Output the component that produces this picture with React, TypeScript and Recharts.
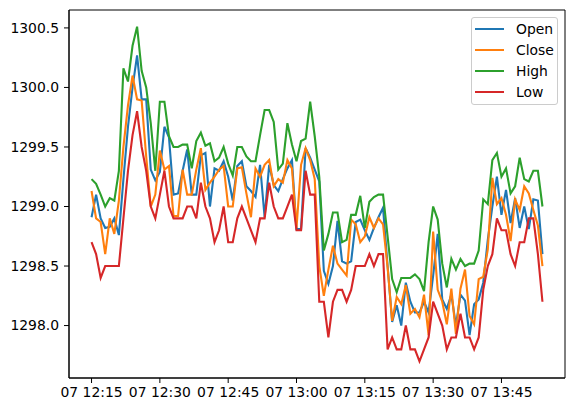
import React from "react"
import {
  LineChart,
  Line,
  XAxis,
  YAxis,
  ReferenceArea,
} from "recharts"

// one point per minute, starting at 07 12:15
const openPrices = [
  1298.91, 1299.10, 1298.90, 1298.82, 1298.83, 1298.90, 1298.76, 1299.23, 1299.67, 1300.00,
  1300.27, 1299.90, 1299.90, 1299.31, 1299.22, 1299.29, 1299.67, 1299.58, 1299.10, 1299.11,
  1299.30, 1299.48, 1299.10, 1299.10, 1299.43, 1299.45, 1299.00, 1299.32, 1299.30, 1299.38,
  1299.25, 1299.05, 1299.34, 1299.38, 1299.17, 1299.13, 1299.08, 1299.35, 1298.91, 1299.35,
  1299.18, 1299.13, 1299.23, 1299.32, 1299.39, 1298.81, 1298.81, 1299.49, 1299.41, 1299.31,
  1299.21, 1298.46, 1298.35, 1298.50, 1298.88, 1298.54, 1298.52, 1298.54, 1298.87, 1298.89,
  1298.80, 1298.72, 1298.82, 1298.91, 1298.99, 1298.50, 1298.03, 1298.17, 1298.00, 1298.36,
  1298.20, 1298.11, 1298.11, 1298.20, 1298.11, 1298.42, 1298.77, 1298.22, 1298.14, 1298.26,
  1298.00, 1298.26, 1298.21, 1297.92, 1298.18, 1298.22, 1298.36, 1298.72, 1299.00, 1299.25,
  1298.93, 1299.14, 1298.86, 1299.07, 1298.82, 1299.00, 1298.81, 1299.06, 1299.05, 1298.60,
]

const closePrices = [
  1299.13, 1298.90, 1298.87, 1298.60, 1298.90, 1298.77, 1299.05, 1299.50, 1299.85, 1300.10,
  1299.90, 1299.89, 1299.42, 1299.00, 1299.10, 1299.47, 1299.31, 1299.34, 1298.92, 1298.92,
  1299.31, 1299.10, 1299.10, 1299.31, 1299.49, 1299.14, 1299.20, 1299.25, 1299.31, 1299.34,
  1299.00, 1299.00, 1299.32, 1299.33, 1299.11, 1298.91, 1299.32, 1299.25, 1299.35, 1299.39,
  1299.17, 1299.23, 1299.20, 1299.39, 1299.32, 1298.82, 1299.35, 1299.49, 1299.39, 1299.23,
  1298.50, 1298.25, 1298.47, 1298.67, 1298.52, 1298.47, 1298.42, 1298.89, 1298.85, 1298.70,
  1298.75, 1298.91, 1298.82, 1298.90, 1298.85, 1298.49, 1298.04, 1298.24, 1298.18, 1298.34,
  1298.10, 1298.14, 1298.07, 1298.26, 1297.92, 1298.79, 1298.30, 1298.20, 1298.01, 1298.31,
  1297.93, 1298.31, 1298.47, 1298.08, 1298.01, 1298.39, 1298.41, 1298.64, 1299.24, 1299.02,
  1299.07, 1298.93, 1298.71, 1299.06, 1298.97, 1299.17, 1299.11, 1298.97, 1298.84, 1298.50,
]

const highPrices = [
  1299.23, 1299.19, 1299.10, 1299.00, 1299.07, 1299.05, 1299.30, 1300.16, 1300.05, 1300.35,
  1300.51, 1300.14, 1300.00, 1299.70, 1299.30, 1299.88, 1299.88, 1299.59, 1299.50, 1299.50,
  1299.52, 1299.52, 1299.32, 1299.55, 1299.62, 1299.51, 1299.53, 1299.38, 1299.41, 1299.50,
  1299.36, 1299.26, 1299.50, 1299.50, 1299.42, 1299.38, 1299.38, 1299.60, 1299.81, 1299.81,
  1299.71, 1299.31, 1299.36, 1299.70, 1299.52, 1299.38, 1299.55, 1299.57, 1299.88, 1299.59,
  1299.25, 1298.63, 1298.77, 1298.95, 1298.95, 1298.70, 1298.72, 1298.93, 1298.93, 1299.09,
  1298.82, 1299.04, 1299.08, 1299.10, 1299.10, 1298.75, 1298.39, 1298.28, 1298.40, 1298.40,
  1298.40, 1298.43, 1298.39, 1298.29, 1298.70, 1299.00, 1298.89, 1298.52, 1298.32, 1298.56,
  1298.47, 1298.56, 1298.50, 1298.52, 1298.52, 1298.63, 1299.06, 1299.02, 1299.39, 1299.45,
  1299.25, 1299.32, 1299.11, 1299.17, 1299.41, 1299.23, 1299.21, 1299.30, 1299.30, 1299.00,
]

const lowPrices = [
  1298.70, 1298.60, 1298.40, 1298.50, 1298.50, 1298.50, 1298.50, 1298.90, 1299.30, 1299.60,
  1299.80, 1299.50, 1299.30, 1299.00, 1298.90, 1299.10, 1299.30, 1299.00, 1298.90, 1298.90,
  1298.90, 1299.00, 1299.00, 1298.90, 1299.20, 1299.00, 1298.90, 1298.70, 1298.80, 1299.00,
  1298.70, 1298.70, 1298.90, 1299.00, 1298.90, 1298.80, 1298.70, 1298.90, 1298.90, 1299.20,
  1299.00, 1298.90, 1298.90, 1299.00, 1299.10, 1298.80, 1298.80, 1299.30, 1299.10, 1299.10,
  1298.20, 1298.20, 1297.90, 1298.20, 1298.30, 1298.30, 1298.20, 1298.30, 1298.50, 1298.50,
  1298.50, 1298.60, 1298.50, 1298.60, 1298.60, 1297.80, 1297.90, 1297.80, 1297.80, 1298.00,
  1297.80, 1297.80, 1297.70, 1297.80, 1297.90, 1298.20, 1298.10, 1298.00, 1297.80, 1297.90,
  1297.90, 1298.10, 1297.90, 1297.90, 1297.80, 1297.90, 1298.30, 1298.50, 1298.60, 1298.90,
  1298.80, 1298.80, 1298.60, 1298.50, 1298.70, 1298.70, 1298.90, 1298.90, 1298.60, 1298.20,
]

// minutes after 12:15
const xTicks = [0, 15, 30, 45, 60, 75, 90]
const xTickLabels = ["07 12:15", "07 12:30", "07 12:45", "07 13:00", "07 13:15", "07 13:30", "07 13:45"]
const yTicks = [1298.0, 1298.5, 1299.0, 1299.5, 1300.0, 1300.5]

const SERIES = [
  { key: "open", name: "Open", color: "#1f77b4" },
  { key: "close", name: "Close", color: "#ff7f0e" },
  { key: "high", name: "High", color: "#2ca02c" },
  { key: "low", name: "Low", color: "#d62728" },
]

const data = openPrices.map((o, i) => ({
  t: i,
  open: o,
  close: closePrices[i],
  high: highPrices[i],
  low: lowPrices[i],
}))

// matplotlib-style autoscale with 5% margins
const pad = (lo: number, hi: number): [number, number] => {
  const m = (hi - lo) * 0.05
  return [lo - m, hi + m]
}
const xDomain = pad(0, data.length - 1)
const yDomain = pad(Math.min(...lowPrices), Math.max(...highPrices))

const FONT = "'DejaVu Sans', sans-serif"
const tickStyle = { fill: "#000", fontSize: 13.9, fontFamily: FONT }

function LegendBox() {
  return (
    <div
      style={{
        position: "absolute",
        left: 471,
        top: 17,
        width: 87,
        height: 88,
        boxSizing: "border-box",
        border: "1px solid #cccccc",
        borderRadius: 3,
        background: "rgba(255,255,255,0.8)",
        paddingTop: 1,
        fontFamily: FONT,
        fontSize: 13.9,
        color: "#000",
      }}
    >
      {SERIES.map((s) => (
        <div key={s.key} style={{ display: "flex", alignItems: "center", height: 20.8 }}>
          <div style={{ marginLeft: 3, width: 29, height: 2.1, background: s.color }} />
          <span style={{ marginLeft: 12 }}>{s.name}</span>
        </div>
      ))}
    </div>
  )
}

export default function App() {
  return (
    <div style={{ position: "fixed", left: 0, top: 0, width: 574, height: 413, background: "#fff" }}>
      <LineChart width={574} height={413} data={data} margin={{ top: 10, right: 9, bottom: 0, left: 0 }}>
        <XAxis
          dataKey="t"
          type="number"
          domain={xDomain}
          ticks={xTicks}
          tickFormatter={(v: number) => xTickLabels[xTicks.indexOf(v)]}
          allowDataOverflow
          height={35}
          tickSize={5}
          tickMargin={4}
          tick={tickStyle}
          stroke="#000"
          interval={0}
        />
        <YAxis
          type="number"
          domain={yDomain}
          ticks={yTicks}
          tickFormatter={(v: number) => v.toFixed(1)}
          allowDataOverflow
          width={69}
          tickSize={5}
          tickMargin={5}
          tick={tickStyle}
          stroke="#000"
        />
        <ReferenceArea
          x1={xDomain[0]}
          x2={xDomain[1]}
          y1={yDomain[0]}
          y2={yDomain[1]}
          fill="none"
          stroke="#000"
          strokeWidth={1}
          ifOverflow="visible"
        />
        {SERIES.map((s) => (
          <Line
            key={s.key}
            type="linear"
            dataKey={s.key}
            name={s.name}
            stroke={s.color}
            strokeWidth={2.1}
            dot={false}
            activeDot={false}
            isAnimationActive={false}
          />
        ))}
      </LineChart>
      <LegendBox />
    </div>
  )
}
